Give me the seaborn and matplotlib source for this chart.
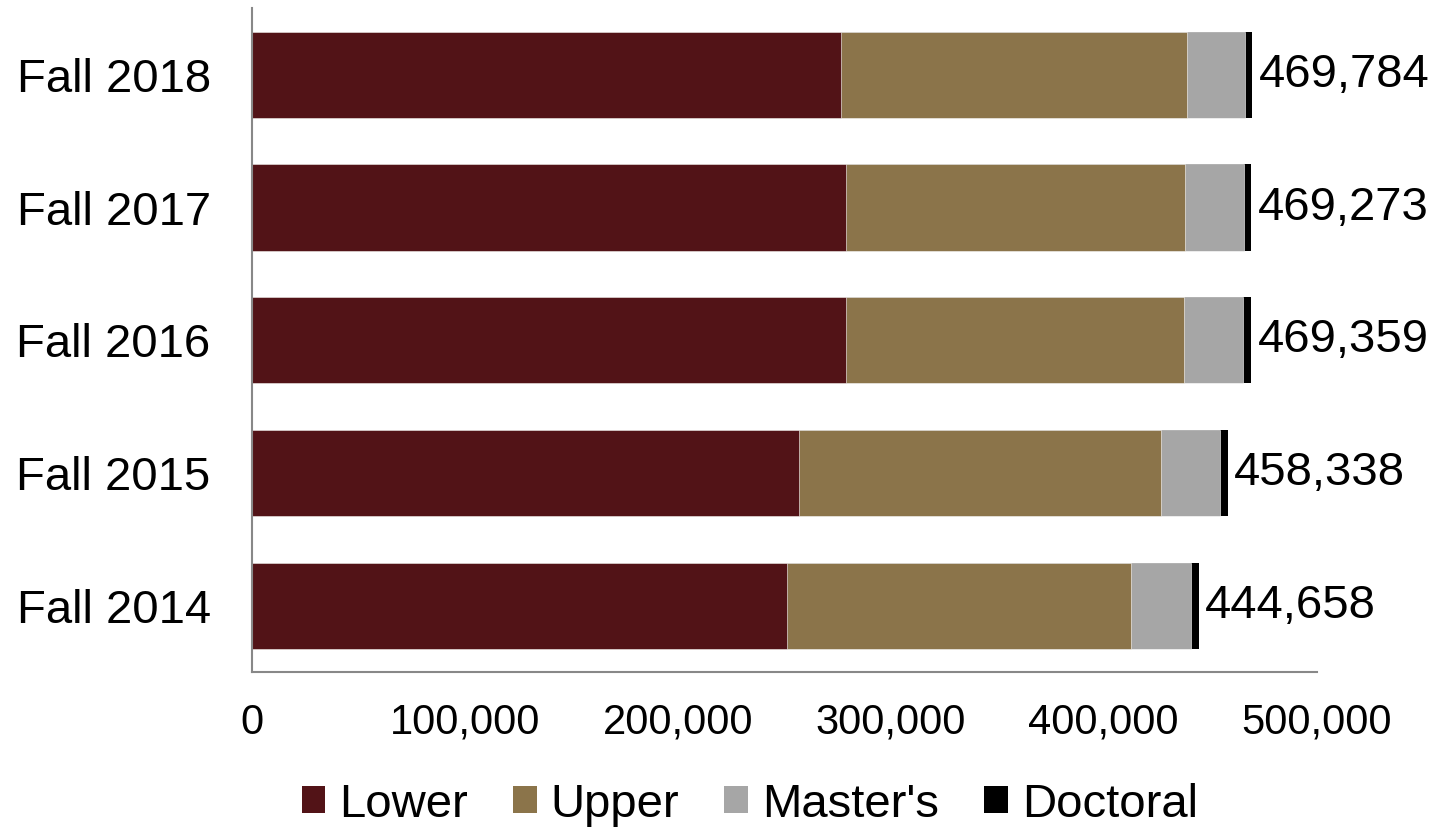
import pandas as pd
import numpy as np
import seaborn as sns
import matplotlib.pyplot as plt
from matplotlib.patches import Patch

# Enrollment by level
terms = ["Fall 2018", "Fall 2017", "Fall 2016", "Fall 2015", "Fall 2014"]
lower = [276800, 279100, 278700, 257000, 251400]
upper = [162100, 159300, 158800, 169700, 161200]
masters = [27300, 27300, 28100, 27700, 28200]
doctoral = [3584, 3573, 3759, 3938, 3858]
total_labels = ["469,784", "469,273", "469,359", "458,338", "444,658"]

levels = ["Lower", "Upper", "Master's", "Doctoral"]
colors = ["#521317", "#8B744A", "#A6A6A6", "#000000"]

sns.set_style("white")
plt.rcParams["font.family"] = ["Liberation Sans", "DejaVu Sans"]
plt.rcParams["text.color"] = "black"
plt.rcParams["xtick.color"] = "black"
plt.rcParams["ytick.color"] = "black"

data = pd.DataFrame({"term": terms, "Lower": lower, "Upper": upper,
                     "Master's": masters, "Doctoral": doctoral})
cum = data[levels].cumsum(axis=1)
cum["term"] = data["term"]

fig = plt.figure(figsize=(14.5, 8.33), dpi=100)
ax = fig.add_axes([0.174, 0.193, 0.734, 0.797])

# stacked bars: draw cumulative totals from the outermost segment inward
for level, color in reversed(list(zip(levels, colors))):
    lw = 0 if level == "Doctoral" else 0.4
    sns.barplot(data=cum, x=level, y="term", order=terms, color=color,
                width=0.65, edgecolor="white", linewidth=lw, ax=ax,
                saturation=1)

for i, lab in enumerate(total_labels):
    ax.text(cum["Doctoral"][i] + 3000, i, lab, va="center", ha="left",
            fontsize=34)

ax.set_xlim(0, 500000)
ax.set_ylim(4.5, -0.5)
ax.set_xticks(np.arange(0, 500001, 100000))
ax.set_xticklabels([f"{v:,}" for v in range(0, 500001, 100000)])
ax.set_xlabel("")
ax.set_ylabel("")
ax.tick_params(axis="x", length=0, pad=22, labelsize=30)
ax.tick_params(axis="y", length=0, pad=30, labelsize=34)
for s in ["top", "right"]:
    ax.spines[s].set_visible(False)
for s in ["left", "bottom"]:
    ax.spines[s].set_color("#888888")
    ax.spines[s].set_linewidth(1.5)

handles = [Patch(facecolor=c, edgecolor="none", label=l) for l, c in zip(levels, colors)]
fig.legend(handles=handles, loc="center", bbox_to_anchor=(0.517, 0.034), ncol=4,
           frameon=False, fontsize=34, handlelength=0.5, handleheight=0.5,
           handletextpad=0.3, columnspacing=0.95)

fig.savefig("out.png", dpi=100)
